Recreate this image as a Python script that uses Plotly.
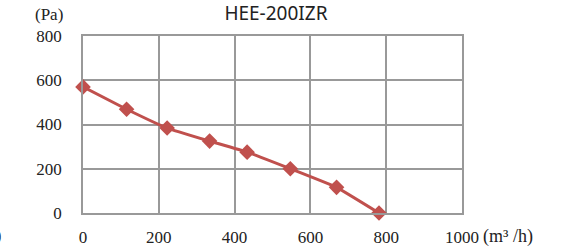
import plotly.graph_objects as go

flow = [0, 115, 222, 334, 433, 547, 669, 781]
pressure = [570, 469, 384, 325, 275, 200, 116, 0]
x_ticks = [0, 200, 400, 600, 800, 1000]
y_ticks = [0, 200, 400, 600, 800]
title = "HEE-200IZR"

color = "#C0504D"
fig = go.Figure()
fig.add_trace(go.Scatter(
    x=flow, y=pressure, mode="lines+markers",
    line=dict(color=color, width=3, shape="spline", smoothing=0.3),
    marker=dict(symbol="diamond", size=12, color=color),
    cliponaxis=False,
))

serif = "Liberation Serif, Times New Roman, serif"
tickfont = dict(family=serif, size=17, color="#222")
fig.update_layout(
    width=562, height=251,
    margin=dict(l=83, r=100, t=36, b=38, autoexpand=False),
    paper_bgcolor="white", plot_bgcolor="white",
    showlegend=False,
    title=dict(text=title, x=0.491, xanchor="center", y=0.945, yanchor="middle",
               font=dict(family="Noto Sans", size=19, color="#222")),
    xaxis=dict(range=[0, 1000], tickvals=x_ticks, showgrid=True, automargin=False,
               gridcolor="#999", gridwidth=1.5, zeroline=False,
               showline=True, linecolor="#999", linewidth=1.5, mirror=True,
               tickfont=tickfont, ticklabelstandoff=8, ticks=""),
    yaxis=dict(range=[0, 800], tickvals=y_ticks, showgrid=True, automargin=False,
               gridcolor="#999", gridwidth=1.5, zeroline=False,
               showline=True, linecolor="#999", linewidth=1.5, mirror=True,
               tickfont=tickfont, ticklabelstandoff=16, ticks=""),
    annotations=[
        dict(text="(Pa)", xref="paper", yref="paper", x=-0.09, y=1.12,
             xanchor="center", yanchor="middle", showarrow=False,
             font=dict(family=serif, size=17, color="#222")),
        dict(text="(m³ /h)", xref="paper", yref="paper", x=1.05, y=-0.13,
             xanchor="left", yanchor="middle", showarrow=False,
             font=dict(family=serif, size=18, color="#222")),
        dict(text=")", xref="paper", yref="paper", x=-0.212, y=-0.13,
             xanchor="right", yanchor="middle", showarrow=False,
             font=dict(family=serif, size=16, color="#222")),
    ],
)
fig.write_html("out.html", config={"displayModeBar": False},
               post_script="document.body.style.margin='0';document.body.style.padding='0';")
